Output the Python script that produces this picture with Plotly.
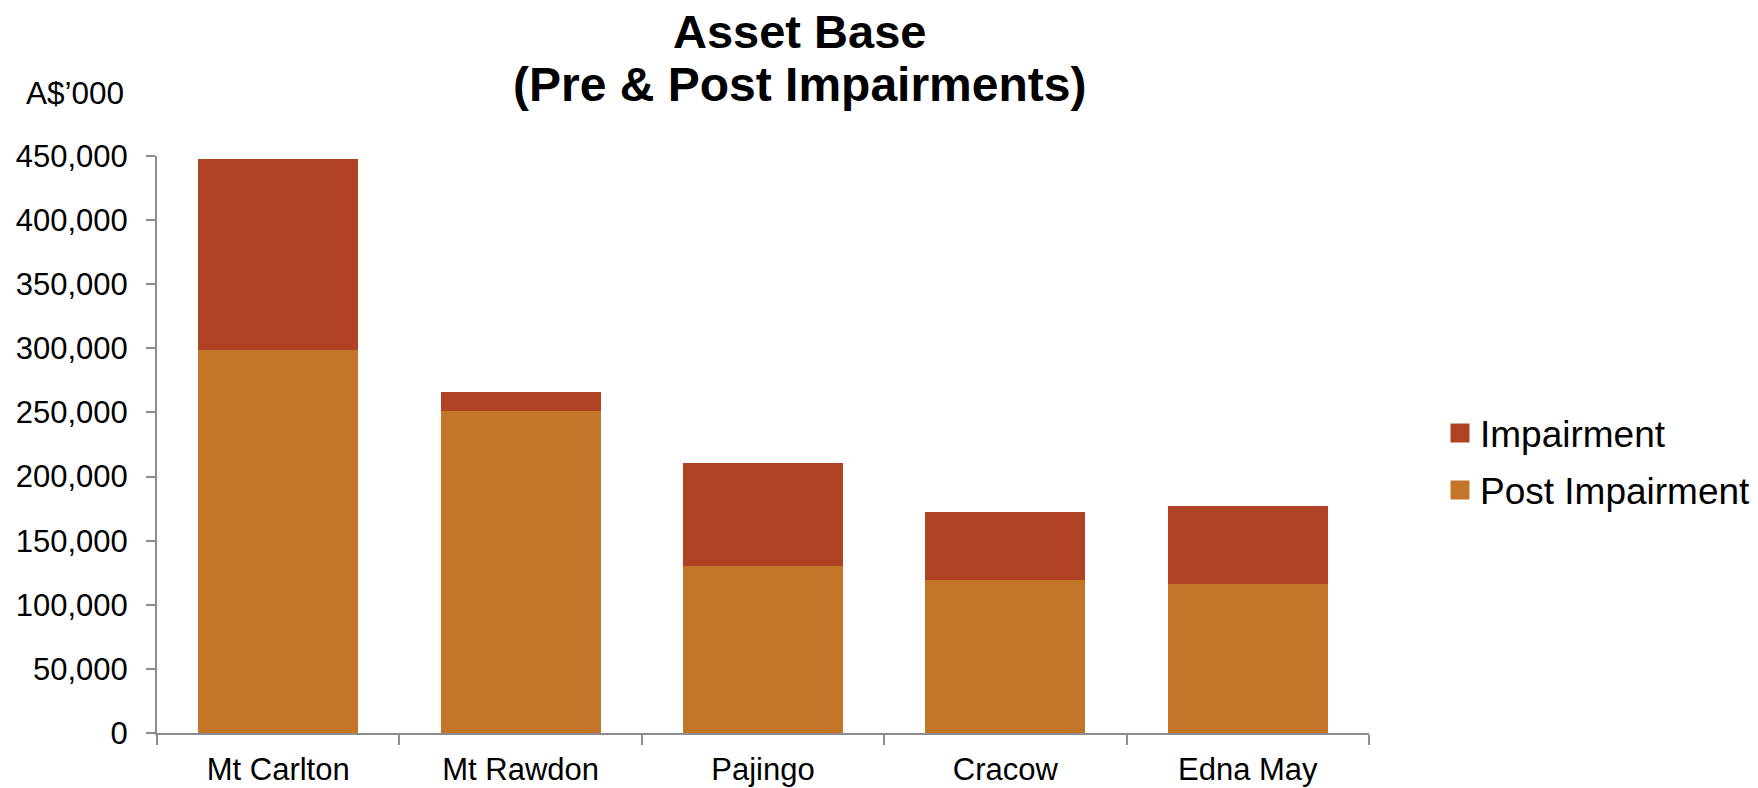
import plotly.graph_objects as go

categories = ["Mt Carlton", "Mt Rawdon", "Pajingo", "Cracow", "Edna May"]
post_impairment = [299000, 251000, 130000, 119000, 116500]
impairment = [148500, 15000, 80500, 53700, 60200]
y_ticks = [0, 50000, 100000, 150000, 200000, 250000, 300000, 350000, 400000, 450000]

C_IMP = "#AF4223"
C_POST = "#C3762A"
FONT = "Liberation Sans, Arial, sans-serif"

FIG_W, FIG_H = 1758, 788
PLOT_L, PLOT_R, PLOT_T, PLOT_B = 157, 1369, 156, 733.3
PW, PH = PLOT_R - PLOT_L, PLOT_B - PLOT_T


def px_x(x):
    return (x - PLOT_L) / PW


def px_y(y):
    return (PLOT_B - y) / PH


fig = go.Figure()
fig.add_trace(go.Bar(x=categories, y=post_impairment, name="Post Impairment",
                     marker=dict(color=C_POST, line=dict(width=0)), showlegend=False, width=0.66))
fig.add_trace(go.Bar(x=categories, y=impairment, name="Impairment",
                     marker=dict(color=C_IMP, line=dict(width=0)), showlegend=False, width=0.66))
# legend proxies
fig.add_trace(go.Scatter(x=[None], y=[None], mode="markers", name="Impairment", legendgroup="a",
                         marker=dict(symbol="square", size=16, color=C_IMP,
                                     line=dict(color=C_IMP, width=3))))
fig.add_trace(go.Scatter(x=[None], y=[None], mode="markers", name="Post Impairment", legendgroup="b",
                         marker=dict(symbol="square", size=16, color=C_POST,
                                     line=dict(color=C_POST, width=3))))

fig.update_layout(
    width=FIG_W, height=FIG_H,
    barmode="stack",
    paper_bgcolor="white", plot_bgcolor="white",
    margin=dict(l=PLOT_L, r=FIG_W - PLOT_R, t=PLOT_T, b=FIG_H - PLOT_B, autoexpand=False),
    font=dict(family=FONT, size=31, color="black"),
    legend=dict(x=px_x(1440), xanchor="left", y=px_y(462), yanchor="middle",
                font=dict(size=37, family=FONT, color="black"),
                traceorder="grouped", tracegroupgap=6,
                bgcolor="rgba(0,0,0,0)", borderwidth=0),
    xaxis=dict(showgrid=False, showline=True, linecolor="#8c8c8c", linewidth=2,
               ticks="outside", tickson="boundaries", ticklen=10, tickwidth=2,
               tickcolor="#8c8c8c", ticklabelstandoff=8, automargin=False,
               tickfont=dict(size=31, family=FONT, color="black")),
    yaxis=dict(range=[0, 450000], tickvals=y_ticks, tickformat=",",
               showgrid=False, zeroline=False, showline=True, linecolor="#8c8c8c",
               linewidth=2, ticks="outside", ticklen=9, tickwidth=2, tickcolor="#8c8c8c",
               ticklabelstandoff=12, automargin=False,
               tickfont=dict(size=31, family=FONT, color="black")),
    annotations=[
        dict(text="<b>Asset Base</b>", xref="paper", yref="paper",
             x=px_x(799), y=px_y(31), xanchor="center", yanchor="middle",
             showarrow=False, font=dict(size=47, family=FONT, color="black")),
        dict(text="<b>(Pre & Post Impairments)</b>", xref="paper", yref="paper",
             x=px_x(799), y=px_y(84), xanchor="center", yanchor="middle",
             showarrow=False, font=dict(size=48, family=FONT, color="black")),
        dict(text="A$’000", xref="paper", yref="paper",
             x=px_x(24), y=px_y(93), xanchor="left", yanchor="middle",
             showarrow=False, font=dict(size=31.5, family=FONT, color="black")),
    ],
)

fig.write_html("out.html", config={"displayModeBar": False},
               post_script="document.body.style.margin='0';document.body.style.overflow='hidden';")
